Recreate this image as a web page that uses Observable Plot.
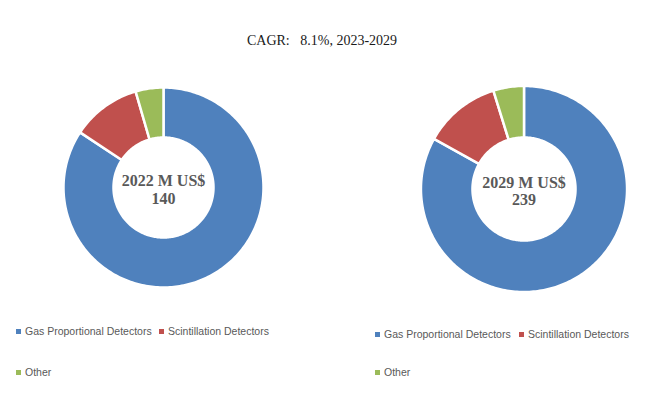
<!DOCTYPE html>
<html><head><meta charset="utf-8">
<script src="https://cdn.jsdelivr.net/npm/d3@7"></script>
<script src="https://cdn.jsdelivr.net/npm/@observablehq/plot@0.6"></script>
<style>
body{margin:0;background:#fff;}
#wrap{position:relative;width:650px;height:398px;overflow:hidden;background:#fff;}
.title{position:absolute;left:0;width:644px;top:33px;text-align:center;font:14px "Liberation Serif",serif;color:#1a1a1a;white-space:pre;}
.donut{position:absolute;}
.leg{position:absolute;font:10.5px "Liberation Sans",sans-serif;color:#595959;white-space:nowrap;line-height:12px;}
.leg .sw{display:inline-block;width:5px;height:5px;margin-right:4px;vertical-align:1px;}
</style></head>
<body><div id="wrap"></div>
<script>
const categories = ["Gas Proportional Detectors", "Scintillation Detectors", "Other"];
const colors = ["#4F81BD", "#C0504D", "#9BBB59"];
const share2022 = [84.3, 11.2, 4.5];
const share2029 = [83.1, 12.1, 4.8];
const years = ["2022", "2029"];
const totals = [140, 239];
const titleText = "CAGR:   8.1%, 2023-2029";

const wrap = document.getElementById("wrap");
const t = document.createElement("div");
t.className = "title"; t.textContent = titleText; wrap.appendChild(t);

const inner = 0.5;
function slices(values) {
  const pie = d3.pie().sort(null).value(d => d.v)(values.map((v, i) => ({cat: categories[i], v})));
  const pts = [];
  for (const p of pie) {
    const span = p.endAngle - p.startAngle;
    const n = Math.max(8, Math.ceil(span / 0.02));
    for (let k = 0; k <= n; k++) { const a = p.startAngle + span * k / n; pts.push({cat: p.data.cat, x: Math.sin(a), y: Math.cos(a)}); }
    for (let k = n; k >= 0; k--) { const a = p.startAngle + span * k / n; pts.push({cat: p.data.cat, x: inner * Math.sin(a), y: inner * Math.cos(a)}); }
  }
  return pts;
}

function donut(values, year, total, size) {
  return Plot.plot({
    width: size, height: size, margin: 0,
    x: {domain: [-1.15, 1.15], axis: null},
    y: {domain: [-1.15, 1.15], axis: null},
    color: {domain: categories, range: colors},
    style: {background: "transparent", overflow: "visible"},
    marks: [
      Plot.line(slices(values), {x: "x", y: "y", z: "cat", fill: "cat", stroke: "white", strokeWidth: 2.5, curve: "linear-closed", strokeLinejoin: "round"}),
      Plot.text([`${year} M US$\n${total}`], {frameAnchor: "middle", text: d => d, fontFamily: "Liberation Serif", fontWeight: "bold", fontSize: 16, fill: "#595959", lineHeight: 1.1, dy: 2})
    ]
  });
}

const layouts = [
  {values: share2022, size: 230, left: 48, top: 72, leg: {x: 16, y1: 325, y2: 366, x2: 159}},
  {values: share2029, size: 237, left: 404.5, top: 69.5, leg: {x: 375, y1: 328, y2: 366, x2: 519}}
];
layouts.forEach((L, i) => {
  const svg = donut(L.values, years[i], totals[i], L.size);
  const d = document.createElement("div");
  d.className = "donut"; d.style.left = L.left + "px"; d.style.top = L.top + "px";
  d.appendChild(svg); wrap.appendChild(d);
  const pos = [[L.leg.x, L.leg.y1], [L.leg.x2, L.leg.y1], [L.leg.x, L.leg.y2]];
  categories.forEach((c, j) => {
    const e = document.createElement("div");
    e.className = "leg";
    e.style.left = pos[j][0] + "px"; e.style.top = pos[j][1] + "px";
    const sw = document.createElement("span"); sw.className = "sw"; sw.style.background = colors[j];
    e.appendChild(sw); e.appendChild(document.createTextNode(c));
    wrap.appendChild(e);
  });
});
</script></body></html>
